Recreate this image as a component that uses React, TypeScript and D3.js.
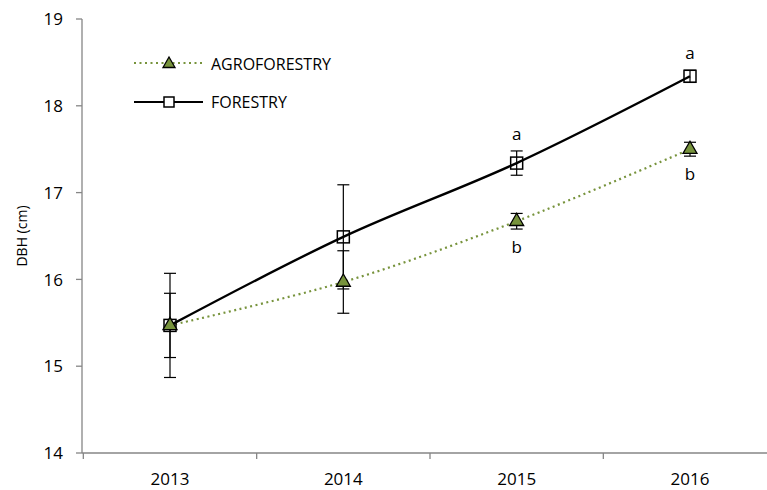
import React from "react";
import * as d3 from "d3";

const years = ["2013", "2014", "2015", "2016"];
const forestry = [15.47, 16.49, 17.34, 18.34];
const forestryErr = [0.6, 0.6, 0.14, 0.07];
const agroforestry = [15.47, 15.97, 16.67, 17.5];
const agroErr = [0.37, 0.36, 0.09, 0.08];
const forestryLetters = ["", "", "a", "a"];
const agroLetters = ["", "", "b", "b"];
const yTicks = [14, 15, 16, 17, 18, 19];

const W = 767;
const H = 490;
const FONT = "'Open Sans', sans-serif";
const AXIS = "#868686";
const GREEN = "#77933C";

export default function App() {
  const x = d3.scalePoint<string>().domain(years).range([170, 690]);
  const step = x.step();
  const y = d3.scaleLinear().domain([14, 19]).range([453, 19]);
  const line = d3
    .line<number>()
    .x((_, i) => x(years[i])!)
    .y((d) => y(d))
    .curve(d3.curveCatmullRom.alpha(0.5));

  const triangle = (cx: number, cy: number, s: number) =>
    `M${cx},${cy - s}L${cx + s},${cy + s * 0.75}L${cx - s},${cy + s * 0.75}Z`;

  const errBar = (cx: number, v: number, e: number, key: string) => (
    <g key={key} stroke="#000" strokeWidth={1.2}>
      <line x1={cx} x2={cx} y1={y(v + e)} y2={y(v - e)} />
      <line x1={cx - 6} x2={cx + 6} y1={y(v + e)} y2={y(v + e)} />
      <line x1={cx - 6} x2={cx + 6} y1={y(v - e)} y2={y(v - e)} />
    </g>
  );

  const xLeft = 82;
  const axisTicks = d3.range(5).map((i) => x(years[0])! - step / 2 + i * step);

  return (
    <svg
      width={W}
      height={H}
      style={{ position: "absolute", left: 0, top: 0, background: "#fff" }}
      fontFamily={FONT}
    >
      {/* y axis */}
      <line x1={xLeft} x2={xLeft} y1={y(19)} y2={y(14)} stroke={AXIS} strokeWidth={1.3} />
      {yTicks.map((t) => (
        <g key={t}>
          <line x1={xLeft - 6} x2={xLeft} y1={y(t)} y2={y(t)} stroke={AXIS} strokeWidth={1.3} />
          <text x={63} y={y(t)} dy="0.36em" textAnchor="end" fontSize={17} fill="#000">
            {t}
          </text>
        </g>
      ))}
      <text
        transform={`translate(22,${(y(14) + y(19)) / 2}) rotate(-90)`}
        textAnchor="middle"
        dy="0.35em"
        fontSize={14}
      >
        DBH (cm)
      </text>

      {/* x axis */}
      <line x1={xLeft} x2={W} y1={y(14)} y2={y(14)} stroke={AXIS} strokeWidth={1.3} />
      {axisTicks.map((tx, i) => (
        <line key={i} x1={tx} x2={tx} y1={y(14)} y2={y(14) + 6} stroke={AXIS} strokeWidth={1.3} />
      ))}
      {years.map((yr) => (
        <text key={yr} x={x(yr)!} y={485} textAnchor="middle" fontSize={17}>
          {yr}
        </text>
      ))}

      {/* error bars */}
      {years.map((yr, i) => errBar(x(yr)!, forestry[i], forestryErr[i], `fe${i}`))}
      {years.map((yr, i) => errBar(x(yr)!, agroforestry[i], agroErr[i], `ae${i}`))}

      {/* series lines */}
      <path d={line(agroforestry)!} fill="none" stroke={GREEN} strokeWidth={2.2} strokeDasharray="2 3.5" />
      <path d={line(forestry)!} fill="none" stroke="#000" strokeWidth={2.4} />

      {/* markers */}
      {forestry.map((v, i) => (
        <rect
          key={`fm${i}`}
          x={x(years[i])! - 6}
          y={y(v) - 6}
          width={12}
          height={12}
          fill="none"
          stroke="#000"
          strokeWidth={1.5}
        />
      ))}
      {agroforestry.map((v, i) => (
        <path key={`am${i}`} d={triangle(x(years[i])!, y(v) - 1, 7)} fill={GREEN} stroke="#000" strokeWidth={1.3} />
      ))}

      {/* significance letters */}
      {forestry.map((v, i) =>
        forestryLetters[i] ? (
          <text key={`fl${i}`} x={x(years[i])!} y={y(v + forestryErr[i]) - 11} textAnchor="middle" fontSize={17}>
            {forestryLetters[i]}
          </text>
        ) : null
      )}
      {agroforestry.map((v, i) =>
        agroLetters[i] ? (
          <text key={`al${i}`} x={x(years[i])!} y={y(v - agroErr[i]) + 24} textAnchor="middle" fontSize={17}>
            {agroLetters[i]}
          </text>
        ) : null
      )}

      {/* legend */}
      <g>
        <line x1={134} x2={203} y1={63} y2={63} stroke={GREEN} strokeWidth={2.2} strokeDasharray="2 3.5" />
        <path d={triangle(169, 63, 6)} fill={GREEN} stroke="#000" strokeWidth={1.3} />
        <text x={211} y={64} dy="0.36em" fontSize={16}>
          AGROFORESTRY
        </text>
        <line x1={134} x2={203} y1={102} y2={102} stroke="#000" strokeWidth={2.2} />
        <rect x={164} y={97} width={10} height={10} fill="#fff" stroke="#000" strokeWidth={1.5} />
        <text x={211} y={102} dy="0.36em" fontSize={16}>
          FORESTRY
        </text>
      </g>
    </svg>
  );
}
